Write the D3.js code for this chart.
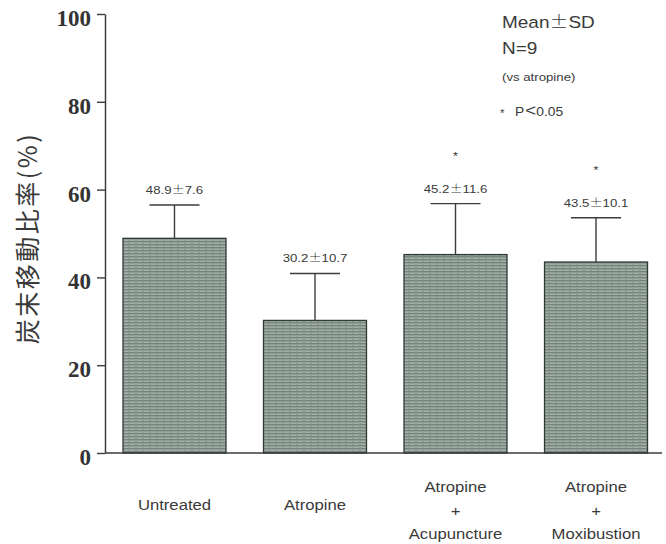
<!DOCTYPE html>
<html><head><meta charset="utf-8">
<script src="https://cdn.jsdelivr.net/npm/d3@7/dist/d3.min.js"></script>
<style>body{margin:0;background:#fff}svg{display:block}</style>
</head><body>
<svg id="c" width="666" height="544"></svg>
<script>
const categories = ["Untreated", "Atropine", "Atropine\n+\nAcupuncture", "Atropine\n+\nMoxibustion"];
const means = [48.9, 30.2, 45.2, 43.5];
const sds = [7.6, 10.7, 11.6, 10.1];
const significant = [false, false, true, true];
const yTicks = [0, 20, 40, 60, 80, 100];
const yTitle = "炭末移動比率(%)";
const legendLines = ["Mean±SD", "N=9", "(vs  atropine)", "P<0.05"];

const svg = d3.select("#c");
const ink = "#3c3c3c";
const sans = "'Liberation Sans', Arial, Helvetica, sans-serif";
const cjk = "'Noto Sans CJK JP','Noto Sans CJK SC',sans-serif";
const SX = 1.15;

const defs = svg.append("defs");
const pat = defs.append("pattern").attr("id","tex").attr("patternUnits","userSpaceOnUse")
  .attr("width",7).attr("height",3);
pat.append("rect").attr("width",7).attr("height",3).attr("fill","#a2b0a9");
pat.append("rect").attr("y",1).attr("width",7).attr("height",1.4).attr("fill","#75847d");
pat.append("rect").attr("x",2).attr("y",0).attr("width",2).attr("height",1).attr("fill","#8e9c95");

const x = d3.scaleBand().domain(categories).range([105, 665.5]).paddingInner(0.267).paddingOuter(0.128);
const y = d3.scaleLinear().domain([0, 100]).range([453, 14]);

function stext(g, x0, y0, txt, size, anchor) {
  const t = g.append("text").attr("transform", `translate(${x0},${y0}) scale(${SX},1)`)
    .attr("text-anchor", anchor).attr("font-family", sans).attr("font-size", size)
    .attr("fill", "#3a3a3a");
  txt.split(/([±<])/).forEach(p => {
    if (!p) return;
    const s = t.append("tspan").text(p);
    if (p === "±") s.attr("font-family", cjk).attr("font-weight", 300);
    if (p === "<") s.attr("font-size", size * 1.35).attr("font-weight", 300).attr("dx", 1);
  });
  return t;
}

// bars
svg.append("g").selectAll("rect").data(categories).join("rect")
  .attr("x", d => x(d)).attr("width", x.bandwidth())
  .attr("y", (d,i) => y(means[i])).attr("height", (d,i) => y(0) - y(means[i]))
  .attr("fill", "url(#tex)").attr("stroke", "#2f3a35").attr("stroke-width", 1.3);

// error bars
const eg = svg.append("g").attr("stroke", ink).attr("stroke-width", 1.4);
categories.forEach((c,i) => {
  const cx = x(c) + x.bandwidth()/2;
  eg.append("line").attr("x1",cx).attr("x2",cx).attr("y1",y(means[i])).attr("y2",y(means[i]+sds[i]));
  eg.append("line").attr("x1",cx-25).attr("x2",cx+25).attr("y1",y(means[i]+sds[i])).attr("y2",y(means[i]+sds[i]));
});

// value labels + stars
const lg = svg.append("g");
categories.forEach((c,i) => {
  const cx = x(c) + x.bandwidth()/2;
  const by = y(means[i]+sds[i]) - 11;
  stext(lg, cx, by, `${means[i].toFixed(1)}±${sds[i].toFixed(1)}`, 11.5, "middle");
  if (significant[i]) stext(lg, cx, by - 33, "*", 11, "middle");
});

// y axis
const ya = svg.append("g").attr("transform","translate(105,0)")
  .call(d3.axisLeft(y).tickValues(yTicks).tickSize(8).tickSizeOuter(0).tickPadding(6));
ya.select(".domain").attr("stroke", ink).attr("stroke-width", 1.5);
ya.selectAll(".tick line").attr("stroke", ink).attr("stroke-width", 1.4);
ya.selectAll(".tick text").attr("font-family","'Liberation Serif','Times New Roman',serif")
  .attr("font-weight","bold").attr("font-size",23).attr("fill","#333").attr("dy", "0.5em");

// baseline
svg.append("line").attr("x1",105).attr("x2",662).attr("y1",y(0)).attr("y2",y(0))
  .attr("stroke", ink).attr("stroke-width", 1.5);

// x labels
const xg = svg.append("g");
categories.forEach(c => {
  const cx = x(c) + x.bandwidth()/2;
  const parts = c.split("\n");
  if (parts.length === 1) {
    stext(xg, cx, 510, parts[0], 14.5, "middle");
  } else {
    stext(xg, cx, 492, parts[0], 14.5, "middle");
    stext(xg, cx, 516, parts[1], 14.5, "middle");
    stext(xg, cx, 539, parts[2], 14.5, "middle");
  }
});

// y title
svg.append("text").attr("transform","translate(37,238) rotate(-90)")
  .attr("text-anchor","middle").attr("font-family",cjk)
  .attr("font-size",25).attr("letter-spacing",2.5).attr("fill","#3a3a3a").text(yTitle);

// legend
const leg = svg.append("g");
stext(leg, 502, 28, legendLines[0], 16.5, "start");
stext(leg, 502, 54, legendLines[1], 16.5, "start");
stext(leg, 502, 81, legendLines[2], 11.5, "start");
stext(leg, 500, 117, "*", 10, "start");
stext(leg, 515, 116, legendLines[3], 12, "start");
</script>
</body></html>
